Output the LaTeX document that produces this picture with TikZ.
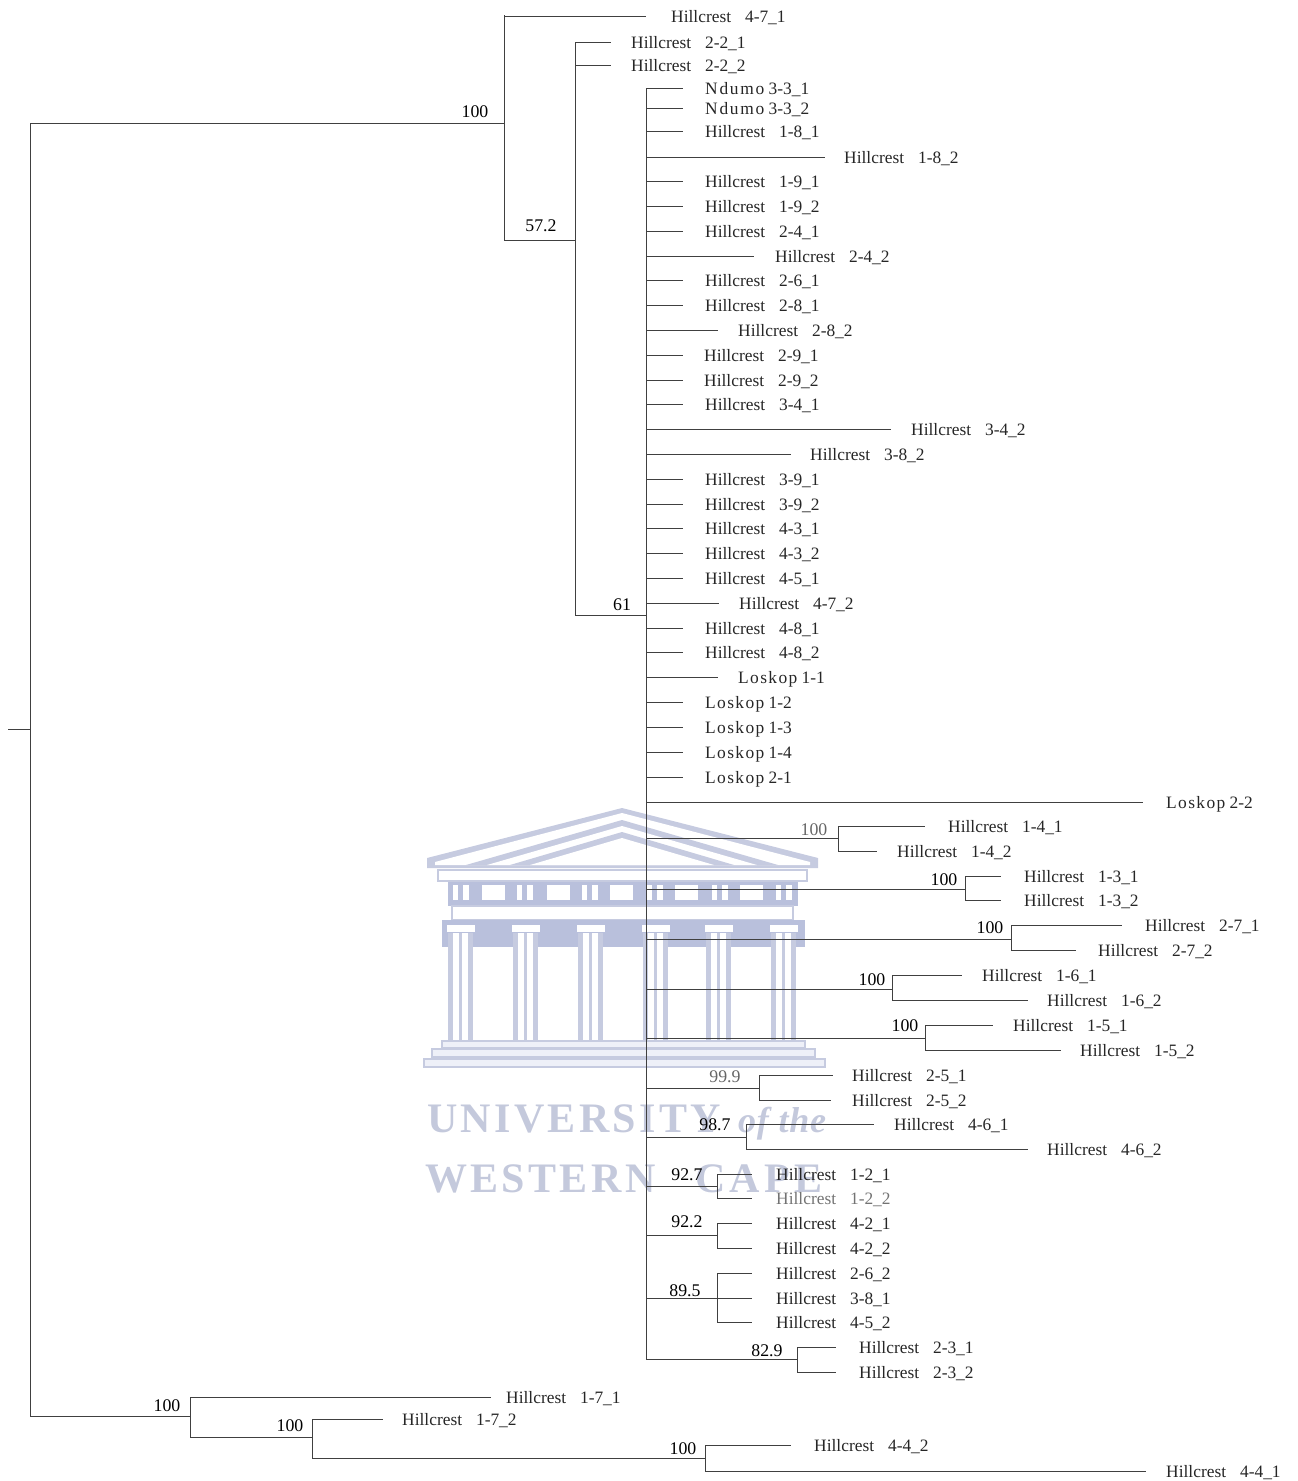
\documentclass[tikz,border=0pt]{standalone}
\usepackage{fontspec}
\setmainfont{Liberation Serif}
\usepackage{xcolor}
\definecolor{wmline}{HTML}{C6CBE0}
\definecolor{wmband}{HTML}{B9C0DC}
\definecolor{wmpale}{HTML}{EEF0F8}
\definecolor{wmtext}{HTML}{C4C9DC}
\definecolor{branch}{HTML}{404040}

\begin{document}
\begin{tikzpicture}[
  x=1pt, y=-1pt,
  edge/.style={draw=branch, line width=1pt, line cap=rect},
  lab/.style={font=\fontsize{17.4}{20}\selectfont, anchor=base west, inner sep=0pt, text=black!85},
  tip122/.style={text=black!55},
  suplab/.style={font=\fontsize{17.8}{20}\selectfont, inner sep=0pt},
  wm/.style={fill=wmline},
  wmw/.style={fill=white},
  wmstep/.style={fill=wmpale, draw=wmline, line width=2.5pt},
  wmword/.style={font=\fontsize{42}{46}\bfseries\selectfont, text=wmtext, anchor=base west, inner sep=0pt}
]
\useasboundingbox (0,0) rectangle (1298,1481);

% watermark
\fill[wm] (622,808) -- (818,858) -- (818,868) -- (427,868) -- (427,858) -- cycle;
\fill[wmw] (622,813) -- (810,862) -- (810,865) -- (435,865) -- (435,862) -- cycle;
\fill[wm] (622,820) -- (778,865) -- (466,865) -- cycle;
\fill[wmw] (622,826) -- (757,865) -- (487,865) -- cycle;
\fill[wm] (622,832) -- (734,865) -- (510,865) -- cycle;
\fill[wmw] (622,838) -- (714,865) -- (530,865) -- cycle;
\draw[wmstep, fill=white] (438,870) rectangle (807,881);
\fill[wmband] (448,882) rectangle (798,906);
\foreach \x in {482,547,610,675,740} {
  \fill[wmw] (\x,885) rectangle ++(23,15);
}
\foreach \x in {453,517,582,647,712,776} {
  \fill[wmw] (\x,885) rectangle ++(5,15);
  \fill[wmw] (\x+10,885) rectangle ++(6,15);
}
\draw[wmstep, fill=white] (452,906) rectangle (793,920);
\fill[wmband] (442,920) rectangle (805,947);
\foreach \x in {448,513,578,643,706,771} {
  \fill[wmw] (\x-1,925) rectangle ++(28,7);
  \fill[wmw] (\x-1,947) rectangle ++(28,93);
  \fill[wm] (\x,933) rectangle ++(25,107);
  \fill[wmw] (\x+5,933) rectangle ++(6,107);
  \fill[wmw] (\x+14,933) rectangle ++(6,107);
}
\draw[wmstep] (442,1041) rectangle (805,1048);
\draw[wmstep] (432,1049) rectangle (815,1057);
\draw[wmstep] (424,1059) rectangle (825,1067);
\node[wmword] (univ) at (427,1132) {\addfontfeature{LetterSpace=8}UNIVERSITY};
\node[wmword, font=\fontsize{36}{40}\bfseries\itshape\selectfont] (ofthe) at (738,1132) {\addfontfeature{LetterSpace=2}of the};
\node[wmword] (west) at (425,1192) {\addfontfeature{LetterSpace=8}WESTERN};
\node[wmword] (cape) at (695,1192) {\addfontfeature{LetterSpace=10}CAPE};

% clades
\coordinate (stub) at (8,729);
\foreach \n/\x/\y/\up/\ya/\yb in {
  root/30/729/stub/123/1416,
  c47/504/123/root/15/240,
  c22/575/240/c47/42/615,
  sp/646/615/c22/88/1359,
  c14/838/838/sp/826/851,
  c13/965/889/sp/876/900,
  c27/1011/939/sp/925/950,
  c16/892/989/sp/975/1000,
  c15/925/1038/sp/1025/1050,
  c25/759/1088/sp/1075/1100,
  c46/746/1137/sp/1124/1149,
  c12/717/1186/sp/1174/1198,
  c42/717/1235/sp/1223/1248,
  c38/717/1298/sp/1273/1322,
  c23/797/1359/sp/1347/1372,
  c17/190/1416/root/1397/1437,
  c172/312/1437/c17/1419/1458,
  c44/705/1458/c172/1445/1471} {
  \coordinate (\n) at (\x,\y);
  \coordinate (\n a) at (\x,\ya);
  \coordinate (\n b) at (\x,\yb);
  \draw[edge] (\up |- \n) -- (\n);
  \draw[edge] (\n a) -- (\n b);
}

% tips
\foreach \a/\b/\r/\y/\xe/\xl/\up in {
  4/7/1/16/645/671/c47,
  2/2/1/42/610/631/c22, 2/2/2/65/610/631/c22,
  1/8/1/131/682/705/sp, 1/8/2/157/824/844/sp,
  1/9/1/181/682/705/sp, 1/9/2/206/682/705/sp,
  2/4/1/231/682/705/sp, 2/4/2/256/753/775/sp,
  2/6/1/280/682/705/sp, 2/8/1/305/682/705/sp,
  2/8/2/330/717/738/sp, 2/9/1/355/682/704/sp,
  2/9/2/380/682/704/sp, 3/4/1/404/682/705/sp,
  3/4/2/429/890/911/sp, 3/8/2/454/790/810/sp,
  3/9/1/479/682/705/sp, 3/9/2/504/682/705/sp,
  4/3/1/528/682/705/sp, 4/3/2/553/682/705/sp,
  4/5/1/578/682/705/sp, 4/7/2/603/718/739/sp,
  4/8/1/628/682/705/sp, 4/8/2/652/682/705/sp,
  1/4/1/826/924/948/c14, 1/4/2/851/876/897/c14,
  1/3/1/876/1000/1024/c13, 1/3/2/900/1000/1024/c13,
  2/7/1/925/1121/1145/c27, 2/7/2/950/1075/1098/c27,
  1/6/1/975/961/982/c16, 1/6/2/1000/1027/1047/c16,
  1/5/1/1025/992/1013/c15, 1/5/2/1050/1060/1080/c15,
  2/5/1/1075/832/852/c25, 2/5/2/1100/830/852/c25,
  4/6/1/1124/873/894/c46, 4/6/2/1149/1027/1047/c46,
  1/2/1/1174/751/776/c12, 1/2/2/1198/751/776/c12,
  4/2/1/1223/751/776/c42, 4/2/2/1248/751/776/c42,
  2/6/2/1273/751/776/c38, 3/8/1/1298/751/776/c38,
  4/5/2/1322/751/776/c38,
  2/3/1/1347/835/859/c23, 2/3/2/1372/835/859/c23,
  1/7/1/1397/490/506/c17, 1/7/2/1419/382/402/c172,
  4/4/2/1445/790/814/c44, 4/4/1/1471/1145/1166/c44} {
  \coordinate (e\a\b\r) at (\xe,\y);
  \draw[edge] (\up |- e\a\b\r) -- (e\a\b\r);
  \node[lab, tip\a\b\r/.try] (t\a\b\r) at (\xl,\y+6.5) {Hillcrest\hspace{.8em}\a-\b\_\r};
}
\foreach \r/\y in {1/88, 2/108} {
  \coordinate (en\r) at (682,\y);
  \draw[edge] (sp |- en\r) -- (en\r);
  \node[lab] (tn\r) at (705,\y+6.5) {{\addfontfeature{LetterSpace=10}Ndumo} 3-3\_\r};
}
\foreach \a/\b/\y/\xe/\xl in {
  1/1/677/717/738, 1/2/702/682/705, 1/3/727/682/705,
  1/4/752/682/705, 2/1/777/682/705, 2/2/802/1142/1166} {
  \coordinate (el\a\b) at (\xe,\y);
  \draw[edge] (sp |- el\a\b) -- (el\a\b);
  \node[lab] (tl\a\b) at (\xl,\y+6.5) {{\addfontfeature{LetterSpace=8}Loskop} \a-\b};
}

% support values
\foreach \n/\v/\x/\y/\c in {
  s1/100/475/112/black, s2/57.2/541/226/black, s3/61/622/605/black,
  s4/100/814/830/black!60, s5/100/944/880/black, s6/100/990/928/black,
  s7/100/872/980/black, s8/100/905/1026/black, s9/99.9/725/1077/black!60,
  s10/98.7/715/1125/black, s11/92.7/687/1175/black, s12/92.2/687/1222/black,
  s13/89.5/685/1291/black, s14/82.9/767/1351/black, s15/100/167/1406/black,
  s16/100/290/1426/black, s17/100/683/1449/black} {
  \node[suplab, text=\c] (\n) at (\x,\y) {\v};
}

\end{tikzpicture}
\end{document}
